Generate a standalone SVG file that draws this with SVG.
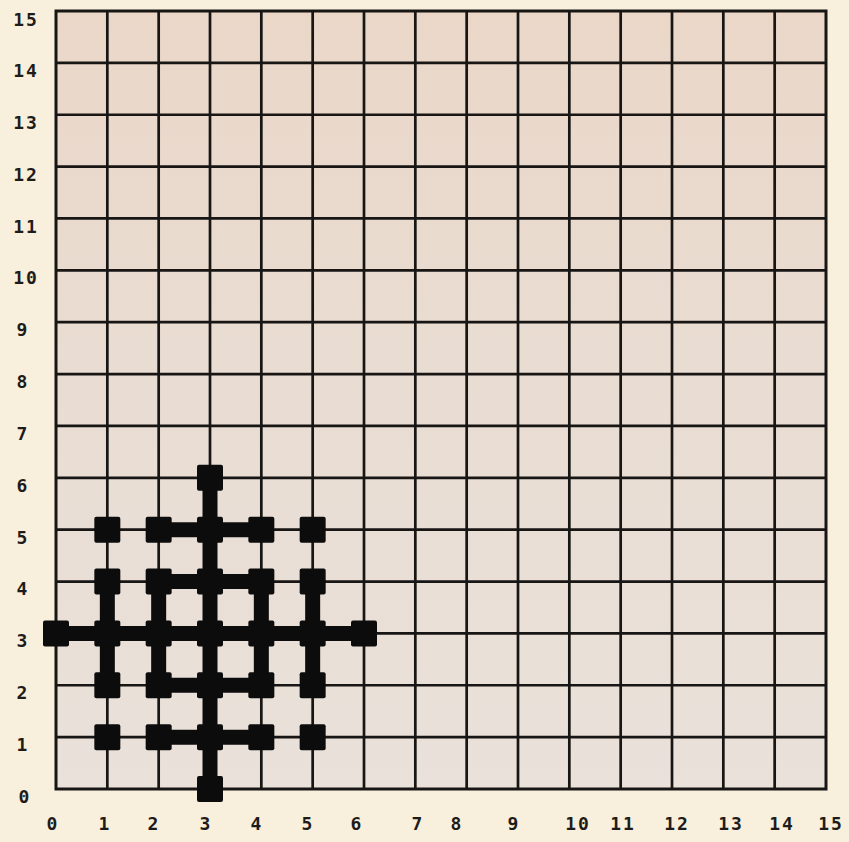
<svg xmlns="http://www.w3.org/2000/svg" width="849" height="842" viewBox="0 0 849 842">
<style>
.bg{fill:#f8f0dc}
.cells{fill:url(#cellg)}
.grid{fill:none;stroke:#181614;stroke-width:2.7}
.edge{fill:none;stroke:#181614;stroke-width:3}
.c{stroke:#0c0c0c;stroke-width:15;stroke-linecap:butt;fill:none}
.n{fill:#0c0c0c}
.lab{font-family:"DejaVu Sans Mono","Liberation Mono",monospace;font-weight:bold;font-size:18px;fill:#1e1c1a;text-anchor:middle;letter-spacing:2px}
</style>
<defs>
<linearGradient id="cellg" x1="0" y1="0" x2="0" y2="1">
<stop offset="0" stop-color="#ead7c8"/>
<stop offset="0.5" stop-color="#e9ddd3"/>
<stop offset="1" stop-color="#e9e1da"/>
</linearGradient>
</defs>
<rect class="bg" x="0" y="0" width="849" height="842"/>
<rect class="cells" x="56" y="11" width="770" height="778"/>
<g id="grid">
<path class="grid" d="M107.33 11V789M158.67 11V789M210 11V789M261.33 11V789M312.67 11V789M364 11V789M415.33 11V789M466.67 11V789M518 11V789M569.33 11V789M620.67 11V789M672 11V789M723.33 11V789M774.67 11V789M56 62.87H826M56 114.73H826M56 166.6H826M56 218.47H826M56 270.33H826M56 322.2H826M56 374.07H826M56 425.93H826M56 477.8H826M56 529.67H826M56 581.53H826M56 633.4H826M56 685.27H826M56 737.13H826"/>
<rect class="edge" x="56" y="11" width="770" height="778"/>
</g>
<g id="axis-labels">
<text class="lab" x="26" y="26">15</text>
<text class="lab" x="26" y="77">14</text>
<text class="lab" x="26" y="129">13</text>
<text class="lab" x="26" y="181">12</text>
<text class="lab" x="26" y="233">11</text>
<text class="lab" x="26" y="284">10</text>
<text class="lab" x="23" y="336">9</text>
<text class="lab" x="23" y="388">8</text>
<text class="lab" x="23" y="440">7</text>
<text class="lab" x="23" y="492">6</text>
<text class="lab" x="23" y="544">5</text>
<text class="lab" x="23" y="595">4</text>
<text class="lab" x="23" y="647">3</text>
<text class="lab" x="23" y="699">2</text>
<text class="lab" x="23" y="751">1</text>
<text class="lab" x="25" y="803">0</text>
<text class="lab" x="53" y="830">0</text>
<text class="lab" x="105" y="830">1</text>
<text class="lab" x="154" y="830">2</text>
<text class="lab" x="206" y="830">3</text>
<text class="lab" x="257" y="830">4</text>
<text class="lab" x="308" y="830">5</text>
<text class="lab" x="357" y="830">6</text>
<text class="lab" x="418" y="830">7</text>
<text class="lab" x="457" y="830">8</text>
<text class="lab" x="514" y="830">9</text>
<text class="lab" x="578" y="830">10</text>
<text class="lab" x="623" y="830">11</text>
<text class="lab" x="677" y="830">12</text>
<text class="lab" x="731" y="830">13</text>
<text class="lab" x="782" y="830">14</text>
<text class="lab" x="831" y="830">15</text>
</g>
<g id="connectors">
<path class="c" d="M210 789V477.8"/>
<path class="c" d="M56 633.4H364"/>
<path class="c" d="M158.67 529.67H261.33"/>
<path class="c" d="M158.67 581.53H261.33"/>
<path class="c" d="M158.67 685.27H261.33"/>
<path class="c" d="M158.67 737.13H261.33"/>
<path class="c" d="M107.33 581.53V685.27"/>
<path class="c" d="M158.67 581.53V685.27"/>
<path class="c" d="M261.33 581.53V685.27"/>
<path class="c" d="M312.67 581.53V685.27"/>
</g>
<g id="nodes">
<g id="n-3-6"><rect class="n" x="197" y="464.8" width="26" height="26" rx="2"/></g>
<g id="n-1-5"><rect class="n" x="94.33" y="516.67" width="26" height="26" rx="2"/></g>
<g id="n-2-5"><rect class="n" x="145.67" y="516.67" width="26" height="26" rx="2"/></g>
<g id="n-3-5"><rect class="n" x="197" y="516.67" width="26" height="26" rx="2"/></g>
<g id="n-4-5"><rect class="n" x="248.33" y="516.67" width="26" height="26" rx="2"/></g>
<g id="n-5-5"><rect class="n" x="299.67" y="516.67" width="26" height="26" rx="2"/></g>
<g id="n-1-4"><rect class="n" x="94.33" y="568.53" width="26" height="26" rx="2"/></g>
<g id="n-2-4"><rect class="n" x="145.67" y="568.53" width="26" height="26" rx="2"/></g>
<g id="n-3-4"><rect class="n" x="197" y="568.53" width="26" height="26" rx="2"/></g>
<g id="n-4-4"><rect class="n" x="248.33" y="568.53" width="26" height="26" rx="2"/></g>
<g id="n-5-4"><rect class="n" x="299.67" y="568.53" width="26" height="26" rx="2"/></g>
<g id="n-0-3"><rect class="n" x="43" y="620.4" width="26" height="26" rx="2"/></g>
<g id="n-1-3"><rect class="n" x="94.33" y="620.4" width="26" height="26" rx="2"/></g>
<g id="n-2-3"><rect class="n" x="145.67" y="620.4" width="26" height="26" rx="2"/></g>
<g id="n-3-3"><rect class="n" x="197" y="620.4" width="26" height="26" rx="2"/></g>
<g id="n-4-3"><rect class="n" x="248.33" y="620.4" width="26" height="26" rx="2"/></g>
<g id="n-5-3"><rect class="n" x="299.67" y="620.4" width="26" height="26" rx="2"/></g>
<g id="n-6-3"><rect class="n" x="351" y="620.4" width="26" height="26" rx="2"/></g>
<g id="n-1-2"><rect class="n" x="94.33" y="672.27" width="26" height="26" rx="2"/></g>
<g id="n-2-2"><rect class="n" x="145.67" y="672.27" width="26" height="26" rx="2"/></g>
<g id="n-3-2"><rect class="n" x="197" y="672.27" width="26" height="26" rx="2"/></g>
<g id="n-4-2"><rect class="n" x="248.33" y="672.27" width="26" height="26" rx="2"/></g>
<g id="n-5-2"><rect class="n" x="299.67" y="672.27" width="26" height="26" rx="2"/></g>
<g id="n-1-1"><rect class="n" x="94.33" y="724.13" width="26" height="26" rx="2"/></g>
<g id="n-2-1"><rect class="n" x="145.67" y="724.13" width="26" height="26" rx="2"/></g>
<g id="n-3-1"><rect class="n" x="197" y="724.13" width="26" height="26" rx="2"/></g>
<g id="n-4-1"><rect class="n" x="248.33" y="724.13" width="26" height="26" rx="2"/></g>
<g id="n-5-1"><rect class="n" x="299.67" y="724.13" width="26" height="26" rx="2"/></g>
<g id="n-3-0"><rect class="n" x="197" y="776" width="26" height="26" rx="2"/></g>
</g>
</svg>
